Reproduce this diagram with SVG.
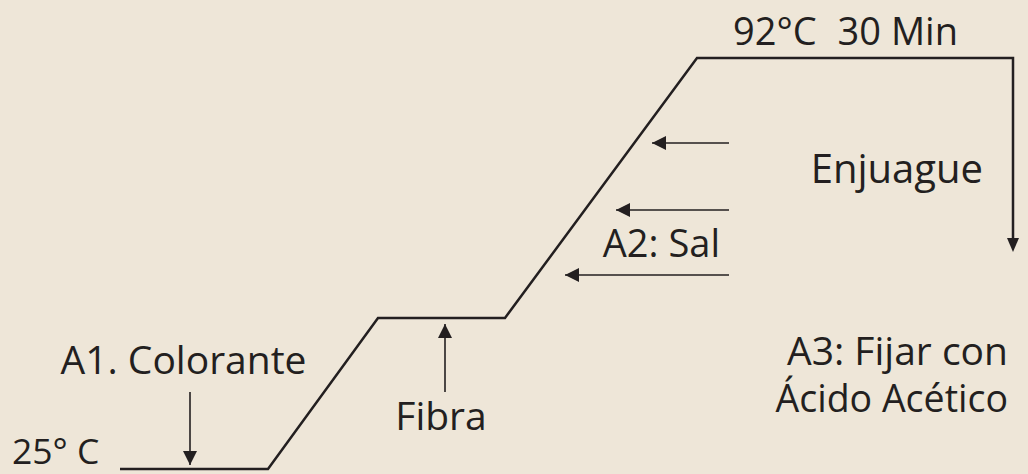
<svg xmlns="http://www.w3.org/2000/svg" width="1028" height="474" viewBox="0 0 1028 474">
<defs>
<style>
.t{font-family:"Open Sans","Liberation Sans",sans-serif;font-size:39px;fill:#231f20}
.main{fill:none;stroke:#231f20;stroke-width:2.5}
.arr{fill:none;stroke:#231f20;stroke-width:1.6}
</style>
<marker id="ah" viewBox="0 0 10 10" refX="10" refY="5" markerWidth="14" markerHeight="14" markerUnits="userSpaceOnUse" orient="auto">
<path d="M0,0 L10,5 L0,10 z" fill="#231f20"/>
</marker>
</defs>
<rect width="1028" height="474" fill="#eee6d8"/>
<g id="connectors">
<path class="main" d="M120,469 L268,469 L378,318 L505,318 L697,58 L1013,58 L1013,240"/>
<path d="M1007,238 L1019,238 L1013,252 z" fill="#231f20"/>
<line class="arr" x1="190" y1="392" x2="190" y2="465" marker-end="url(#ah)"/>
<line class="arr" x1="445" y1="392" x2="445" y2="324" marker-end="url(#ah)"/>
<line class="arr" x1="729" y1="143" x2="652" y2="143" marker-end="url(#ah)"/>
<line class="arr" x1="729" y1="210" x2="616" y2="210" marker-end="url(#ah)"/>
<line class="arr" x1="729" y1="275" x2="565" y2="275" marker-end="url(#ah)"/>
</g>
<g id="label-25"><text class="t" x="12" y="464" style="font-size:35.5px">25° C</text></g>
<g id="label-a1"><text class="t" x="183.5" y="374" text-anchor="middle">A1. Colorante</text></g>
<g id="label-fibra"><text class="t" x="441" y="430" text-anchor="middle">Fibra</text></g>
<g id="label-a2"><text class="t" x="720" y="257" text-anchor="end" style="font-size:38px">A2: Sal</text></g>
<g id="label-92"><text class="t" x="733" y="45" style="font-size:38px">92°C</text><text class="t" x="958" y="45" text-anchor="end" style="font-size:38px">30 Min</text></g>
<g id="label-enj"><text class="t" x="983" y="183" text-anchor="end" style="font-size:40px">Enjuague</text></g>
<g id="label-a3"><text class="t" x="1008" y="365" text-anchor="end">A3: Fijar con</text><text class="t" x="1008" y="412" text-anchor="end" style="font-size:37.5px">Ácido Acético</text></g>
</svg>
